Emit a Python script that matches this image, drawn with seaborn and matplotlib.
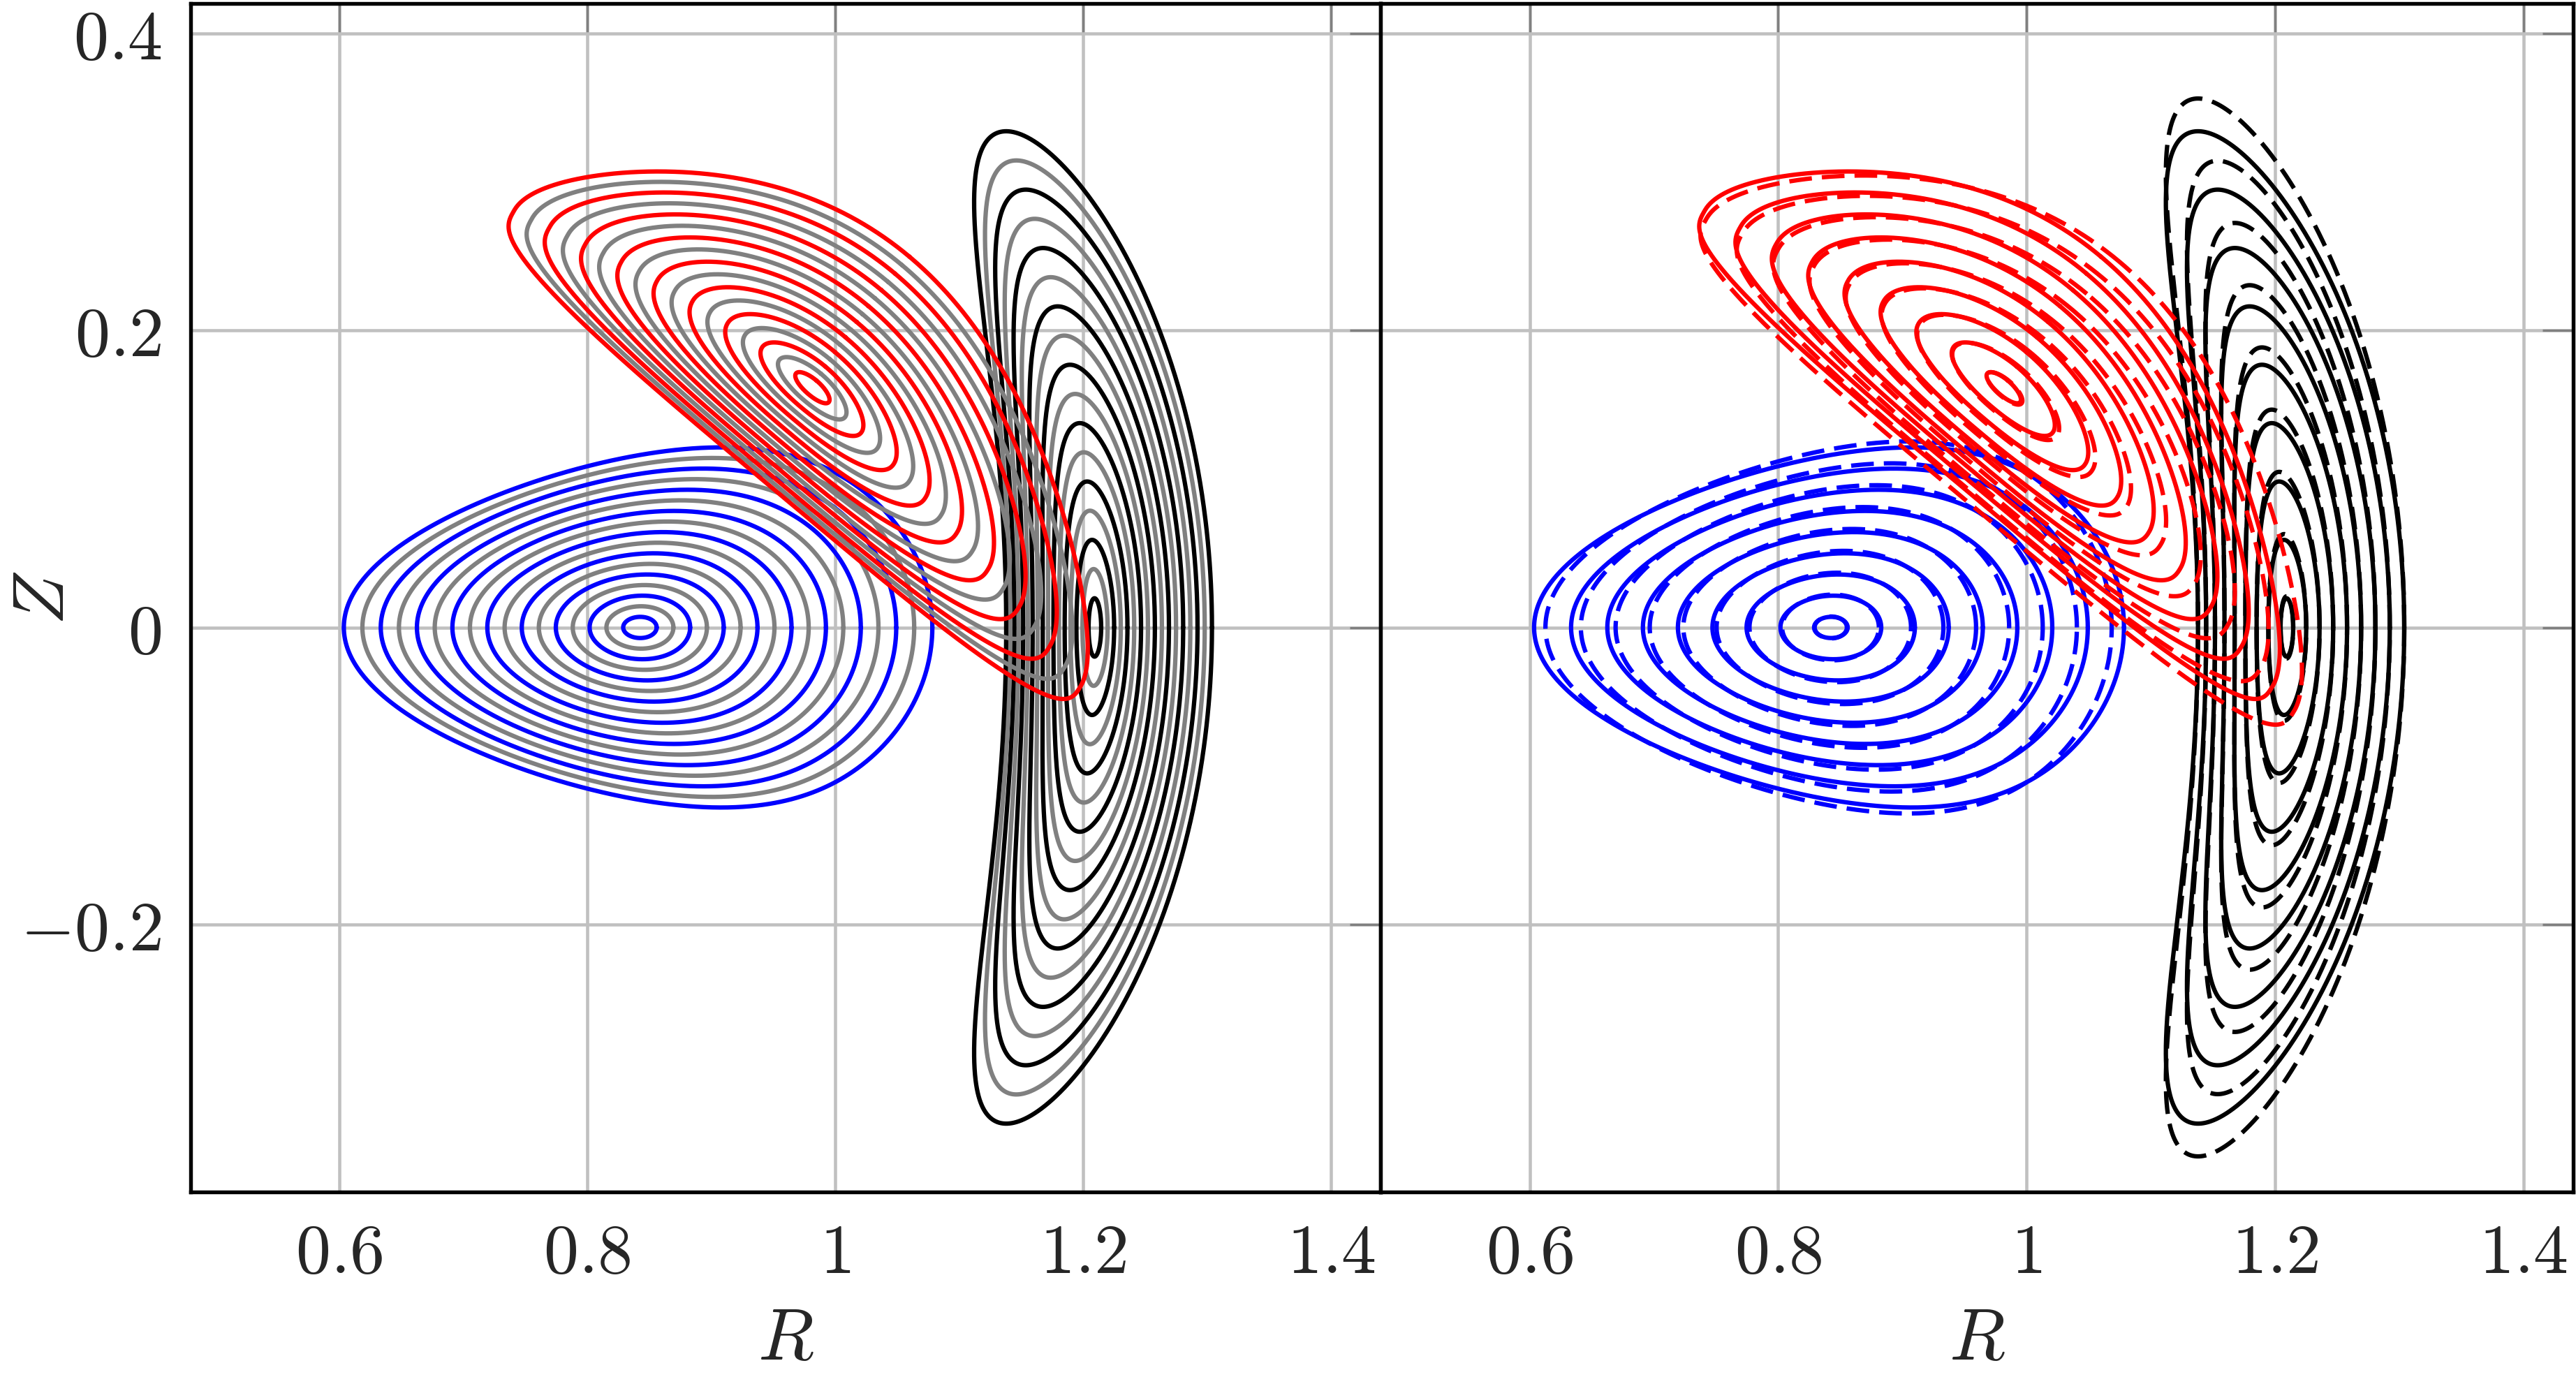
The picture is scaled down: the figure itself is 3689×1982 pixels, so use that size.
import numpy as np
import matplotlib
matplotlib.use("Agg")
import matplotlib.pyplot as plt
import seaborn as sns

# ------------------------------------------------------------------ data
# normalised flux-surface labels (17 nested surfaces per family)
rho_levels = [1/17, 2/17, 3/17, 4/17, 5/17, 6/17, 7/17, 8/17, 9/17,
              10/17, 11/17, 12/17, 13/17, 14/17, 15/17, 16/17, 17/17]
# surfaces drawn in family colour (others grey in the left panel)
colored_levels = [1/17, 3/17, 5/17, 7/17, 9/17, 11/17, 13/17, 15/17, 17/17]

families = ["blue", "black", "red"]
family_colors = ["#0000ff", "#000000", "#ff0000"]
axis_R = [0.8425, 1.2095, 0.9817]        # magnetic axis R
axis_Z = [0.0, 0.0, 0.1615]              # magnetic axis Z
shift_x = [0.032, -0.030, 0.0215]        # edge centre shift (local x)
amp_cos1 = [0.2296, 0.0864, 0.0955]      # minor radius (local x)
amp_cos2 = [-0.0335, 0.0415, 0.0]        # cos(2t) shaping
amp_cos3 = [0.0078, -0.0034, 0.0]        # cos(3t) shaping
triangularity = [0.0, 0.0, 0.70]         # Miller-type triangularity
amp_sin1 = [0.1212, 0.334, 0.279]        # half height (local y)
shift_y = [0.0, 0.0, -0.0135]            # edge centre shift (local y)
corner_power = [1.0, 1.0, 0.60]          # squareness of the flat side (1 = none)
tilt_deg = [0.0, 0.0, 55.0]

# second (dashed) set of surfaces in the right panel
dash_a_factor = [0.96, 1.0, 1.06]
dash_b_factor = [1.033, 1.066, 1.035]
dash_dx = [-0.0017, 0.0, 0.0]
dash_dy = [0.0, 0.0, -0.014]

x_ticks = [0.6, 0.8, 1.0, 1.2, 1.4]
x_ticklabels = ["$0.6$", "$0.8$", "$1$", "$1.2$", "$1.4$"]
y_ticks = [-0.2, 0.0, 0.2, 0.4]
y_ticklabels = ["$-0.2$", "$0$", "$0.2$", "$0.4$"]
x_limits = (0.48, 1.44)
y_limits = (-0.38, 0.42)
x_label = "$R$"
y_label = "$Z$"

# ------------------------------------------------------------------ style
sns.set_style("white")
plt.rcParams["mathtext.fontset"] = "cm"
plt.rcParams["font.family"] = ["DejaVu Serif"]

theta = np.linspace(0.0, 2.0 * np.pi, 1441)


def surface(i, rho, afac=1.0, bfac=1.0, dx=0.0, dy=0.0):
    c, s = np.cos(theta), np.sin(theta)
    X = triangularity[i] * rho
    x0 = rho ** 2 * shift_x[i]
    y0 = rho ** 2 * shift_y[i]
    a = afac * rho * amp_cos1[i]
    b = bfac * rho * amp_sin1[i]
    x = (x0 + a * np.cos(theta + X * s)
         + afac * (rho ** 2 * amp_cos2[i] * np.cos(2 * theta)
                   + rho ** 3 * amp_cos3[i] * np.cos(3 * theta)))
    y = y0 + b * s
    if corner_power[i] < 1.0:
        p = 1.0 - (1.0 - corner_power[i]) * rho
        xt = x0 - a * np.sin(X)
        xf = x0 - a
        m = c < 0
        x[m] = xt - (xt - xf) * np.abs(c[m]) ** p
        y[m] = y0 + b * np.sign(s[m]) * np.abs(s[m]) ** p
    x = x + dx * rho
    y = y + dy * rho
    phi = np.deg2rad(tilt_deg[i])
    R = axis_R[i] + x * np.cos(phi) - y * np.sin(phi)
    Z = axis_Z[i] + x * np.sin(phi) + y * np.cos(phi)
    return R, Z


fig = plt.figure(figsize=(3689 / 300, 1982 / 300), dpi=300)
ax_l = fig.add_axes([273 / 3689, 1 - 1707 / 1982, 1704 / 3689, 1702 / 1982])
ax_r = fig.add_axes([1977 / 3689, 1 - 1707 / 1982, 1708 / 3689, 1702 / 1982])

LW = 1.5
DASH = (0, (5.2, 2.3))
draw_order = [0, 1, 2]

# left panel: all surfaces, alternating colour / grey
for i in draw_order:
    for rho in rho_levels:
        R, Z = surface(i, rho)
        col = family_colors[i] if any(abs(rho - c) < 1e-9 for c in colored_levels) else "#808080"
        sns.lineplot(x=R, y=Z, sort=False, estimator=None, color=col,
                     linewidth=LW, ax=ax_l)

# right panel: coloured surfaces solid + second set dashed
for i in draw_order:
    for rho in colored_levels:
        R, Z = surface(i, rho)
        sns.lineplot(x=R, y=Z, sort=False, estimator=None, color=family_colors[i],
                     linewidth=LW, ax=ax_r)
        R2, Z2 = surface(i, rho, dash_a_factor[i], dash_b_factor[i], dash_dx[i], dash_dy[i])
        sns.lineplot(x=R2, y=Z2, sort=False, estimator=None, color=family_colors[i],
                     linewidth=LW, linestyle=DASH, ax=ax_r)

for ax in (ax_l, ax_r):
    ax.set_xlim(*x_limits)
    ax.set_ylim(*y_limits)
    ax.set_xticks(x_ticks)
    ax.set_xticklabels(x_ticklabels)
    ax.set_yticks(y_ticks)
    ax.set_yticklabels(y_ticklabels)
    ax.grid(True, color="#c0c0c0", linewidth=1.1)
    ax.set_axisbelow(True)
    ax.tick_params(direction="in", length=10.5, width=0.8, color="#808080",
                   top=True, right=True, labelsize=24, pad=10)
    for sp in ax.spines.values():
        sp.set_color("black")
        sp.set_linewidth(1.3)
    ax.set_xlabel(x_label, fontsize=25)
    ax.xaxis.set_label_coords(0.5, -0.094)
    ax.set_ylabel("")

ax_l.set_ylabel(y_label, fontsize=25)
ax_l.yaxis.set_label_coords(-0.094, 0.5)
ax_r.tick_params(labelleft=False)

fig.savefig("out.png", dpi=300)
